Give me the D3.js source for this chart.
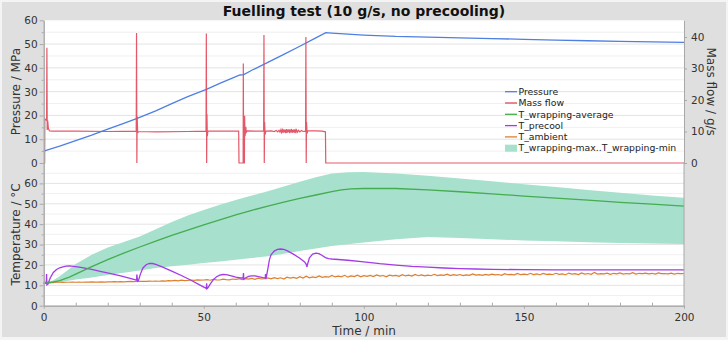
<!DOCTYPE html>
<html>
<head>
<meta charset="utf-8">
<script src="https://cdn.jsdelivr.net/npm/d3@7"></script>
<style>
  body { margin: 0; background: #f4f4f4; }
  svg { display: block; font-family: "DejaVu Sans", Verdana, sans-serif; }
</style>
</head>
<body>
<svg width="728" height="340"></svg>
<script>
// ---- data (time in min) ----
var pressure = [[0,5.0],[5,7.1],[10,9.4],[15,11.7],[20,14.2],[25,16.7],[29.2,18.8],[35,21.9],[40,25.0],[45,27.9],
  [51,31.1],[55,33.5],[61.3,37.0],[62.5,37.2],[65,39.0],[70,42.3],[75,45.7],[80,49.1],[85,52.6],[88.1,54.8],
  [90,54.6],[100,53.8],[110,53.2],[120,52.9],[130,52.6],[140,52.3],[150,52.0],[160,51.7],[170,51.4],[180,51.1],
  [190,50.9],[200,50.7]];

var massFlow = [[0,0],[0.3,0],[0.35,14],[0.9,13.5],[1.0,36.6],[1.1,10.5],[1.25,13.5],[1.45,11],[1.8,10.2],[3,10.1],
  [10,10.1],[20,10.0],[28.9,10.1],[29.0,41.3],[29.1,0],[29.2,14.8],[29.35,9.5],[29.6,10.0],[35,9.9],[45,10.0],
  [50.7,10.1],[50.8,41.1],[50.9,0],[51.0,15.5],[51.1,8.5],[51.3,10.2],[55,10.1],[60.9,10.1],[61.0,0],[62.3,0],
  [62.35,31.6],[62.45,0],[62.7,0],[62.75,15],[62.9,8.5],[63.1,11.5],[63.3,9.8],[63.6,10.2],[66,10.1],[68.7,10.1],
  [68.8,40.6],[68.9,0],[69.0,13],[69.15,9],[69.4,10.1],[71,10.2],[72,10.0],[72.6,10.3],[73.1,9.9],[73.5,10.4],
  [73.8,9.8],[74.1,10.6],[74.3,9.7],[74.6,10.5],[74.8,9.6],[75.0,10.7],[75.2,9.7],[75.4,10.5],[75.6,9.5],
  [75.8,10.8],[76.0,9.6],[76.2,10.6],[76.4,9.8],[76.6,10.7],[76.8,9.5],[77.0,10.6],[77.2,9.7],[77.4,10.8],
  [77.6,9.6],[77.8,10.5],[78.0,9.7],[78.2,10.7],[78.4,9.6],[78.6,10.4],[78.8,9.8],[79.0,10.5],[79.3,9.8],
  [79.6,10.4],[80,9.9],[80.5,10.3],[81,10.0],[81.8,10.1],[81.9,40.0],[82.0,0],[82.1,13],[82.25,9.3],[82.5,10.2],
  [85,10.2],[87,10.1],[88.0,9.9],[88.1,0],[200,0]];

var wrapAvg = [[0,11],[2,11.3],[5,12.3],[8,14],[10,15.5],[15,19.2],[20,22.6],[25,25.8],[30,28.8],[35,31.7],
  [40,34.5],[45,37.1],[50,39.6],[55,42.1],[60,44.5],[65,46.8],[70,48.9],[75,50.8],[80,52.6],[85,54.3],[90,56],
  [93,56.8],[96,57.3],[100,57.5],[105,57.6],[110,57.5],[120,56.8],[130,55.9],[140,54.9],[150,53.8],[160,52.8],
  [170,51.8],[180,50.7],[190,49.8],[200,48.8]];

var wrapMax = [[0,11],[3,12.5],[5,14.5],[10,20.5],[15,25],[20,28.5],[25,31.2],[30,34],[35,37.5],[40,41],[45,44.2],
  [50,47],[55,49.5],[60,51.8],[65,54],[70,56.2],[75,58.5],[80,60.8],[85,63],[90,64.8],[95,65.5],[100,65.6],
  [110,64.8],[120,63.8],[130,62.4],[140,61],[150,59.6],[160,58.2],[170,56.8],[180,55.4],[190,54.1],[200,53]];

var wrapMin = [[0,10.5],[3,10.9],[5,11.5],[10,12.8],[15,13.8],[20,15],[28,16.8],[35,18.5],[40,19.3],[50,20.9],
  [60,22.5],[70,24.2],[80,26.8],[90,29.3],[100,31],[110,32.6],[120,33.7],[130,33.2],[140,32.6],[150,32],
  [160,31.6],[170,31.1],[180,30.8],[190,30.5],[200,30.3]];

var precool = [[0,11],[0.8,11.2],[0.9,15.5],[1.0,10.2],[1.3,10.5],[2,13.5],[3,16.3],[4,17.8],[5,18.6],[6,19.1],
  [7,19.4],[8,19.5],[10,19.2],[12,18.7],[15,17.8],[18,16.7],[21,15.7],[24,14.6],[27,13.4],[29,12.5],[29.1,15.3],
  [29.3,12],[29.6,12.4],[30.2,15.5],[31,18.5],[32,20.1],[33,20.7],[34,20.7],[35,20.3],[37,19],[40,17],[43,14.8],
  [46,12.5],[49,10],[50.8,8.5],[50.9,11],[51.0,8.3],[51.3,8.8],[52,10.6],[53,12.8],[54,14.2],[55,15],[56,15.3],
  [57,15.2],[58,14.9],[60,14],[61.5,13.6],[62.3,13.6],[62.4,16],[62.5,13],[63,13.6],[64,14.4],[65,14.6],[66,14.6],
  [67,14.3],[68.5,13.8],[69.2,13.6],[69.3,15.5],[69.4,13],[70,18],[70.5,22.5],[71,25],[72,26.8],[73,27.6],
  [74,27.8],[75,27.6],[76,27],[78,25.3],[80,23.3],[81.5,21.5],[82,20.3],[82.2,19],[82.5,20.8],[83,23.5],[84,25.3],
  [85,25.8],[86,25.5],[87,24.6],[88,23.6],[89,23.1],[90,22.9],[95,22.3],[100,21.5],[105,20.6],[110,19.9],
  [115,19.3],[120,18.9],[125,18.5],[130,18.2],[135,18],[140,17.8],[150,17.7],[160,17.6],[180,17.6],[200,17.6]];

// T_ambient, one reading per minute from 0 to 200
var ambient = [11.4,11.4,11.5,11.4,11.5,11.5,11.4,11.5,11.5,11.6,
  11.5,11.6,11.5,11.6,11.6,11.7,11.6,11.6,11.7,11.6,
  11.7,11.7,11.8,11.7,11.8,11.7,11.8,11.9,11.8,11.9,
  11.9,12.0,11.9,12.1,12.0,12.1,12.0,12.2,12.1,12.3,
  12.2,12.4,12.2,12.5,12.3,12.4,12.6,12.4,12.7,12.5,
  12.6,12.8,12.5,12.9,12.7,12.6,13.0,12.8,12.7,13.1,
  12.9,13.2,12.8,13.3,13.0,13.4,12.9,13.5,13.1,13.3,
  13.6,13.2,13.8,13.3,13.7,13.1,14.0,13.5,13.9,13.4,
  14.2,13.6,14.5,13.7,14.1,13.8,14.6,13.9,14.3,14.0,
  14.8,14.1,14.5,14.2,14.9,14.0,14.6,14.3,15.0,14.2,
  14.7,14.4,14.9,14.3,15.1,14.5,14.8,14.2,15.0,14.6,
  14.9,14.4,15.2,14.6,15.0,14.5,15.3,14.7,15.1,14.6,
  15.0,14.7,15.4,14.8,15.1,14.9,15.5,14.8,15.2,14.9,
  15.3,14.8,15.1,14.9,15.6,15.0,15.2,14.9,15.4,15.0,
  15.5,15.1,15.3,14.9,15.7,15.2,15.4,15.1,15.8,15.2,
  15.5,15.2,15.9,15.3,15.6,15.2,15.8,15.4,15.5,15.3,
  15.9,15.4,15.6,15.2,16.0,15.5,15.7,15.3,16.1,15.5,
  15.8,15.4,16.3,15.5,15.7,15.6,16.0,15.4,15.9,15.6,
  16.1,15.5,15.8,15.6,16.2,15.5,15.9,15.7,16.0,15.6,
  15.9,15.5,16.1,15.7,15.8,15.6,16.0,15.5,15.9,15.7,
  15.8];

var xTicks = [0, 50, 100, 150, 200];
var pressureTicks = [0, 10, 20, 30, 40, 50, 60];
var massTicks = [0, 10, 20, 30, 40];
var tempTicks = [0, 10, 20, 30, 40, 50, 60];

var legendItems = [
  {name: 'Pressure', color: '#4f7fe3', type: 'line'},
  {name: 'Mass flow', color: '#e0475a', type: 'line'},
  {name: 'T_wrapping-average', color: '#45ac4f', type: 'line'},
  {name: 'T_precool', color: '#a43be6', type: 'line'},
  {name: 'T_ambient', color: '#dc8030', type: 'line'},
  {name: 'T_wrapping-max..T_wrapping-min', color: '#a7e0cd', type: 'rect'}
];

var svg = d3.select('svg');

// outer gray frame
svg.append('rect').attr('x', 2).attr('y', 2).attr('width', 724).attr('height', 335).attr('fill', '#dfdfdf');

// layout
var plot = {l: 43.7, r: 684, t: 20.3, mid: 163, b: 305.7};

var x = d3.scaleLinear().domain([0, 200]).range([plot.l, plot.r]);
var yP = d3.scaleLinear().domain([0, 60]).range([plot.mid, plot.t]);
var yM = d3.scaleLinear().domain([0, 45.3]).range([plot.mid, plot.t]);
var yT = d3.scaleLinear().domain([0, 70]).range([plot.b, plot.mid]);

svg.append('rect').attr('x', plot.l).attr('y', plot.t)
  .attr('width', plot.r - plot.l).attr('height', plot.b - plot.t).attr('fill', '#fff');

// gridlines, every 5 units
var gridG = svg.append('g');
gridG.selectAll('.gp').data(d3.range(5, 60, 5)).enter().append('line')
  .attr('x1', plot.l).attr('x2', plot.r)
  .attr('y1', function(d) { return yP(d); }).attr('y2', function(d) { return yP(d); })
  .attr('stroke', function(d) { return d % 10 ? '#f0f0f0' : '#e3e3e3'; });
gridG.selectAll('.gt').data(d3.range(5, 70, 5)).enter().append('line')
  .attr('x1', plot.l).attr('x2', plot.r)
  .attr('y1', function(d) { return yT(d); }).attr('y2', function(d) { return yT(d); })
  .attr('stroke', function(d) { return d % 10 ? '#f0f0f0' : '#e3e3e3'; });

// temperature panel
var band = d3.area()
  .x(function(d) { return x(d[0]); })
  .y0(function(d) { return yT(d[1]); })
  .y1(function(d) { return yT(d[2]); });
var bandData = wrapMax.map(function(d) {
  // pair each max point with the min value at the same time
  var lo = wrapMin.find(function(m) { return m[0] >= d[0]; });
  var prev = wrapMin.filter(function(m) { return m[0] <= d[0]; }).pop();
  var v = lo[0] === prev[0] ? lo[1] : prev[1] + (lo[1] - prev[1]) * (d[0] - prev[0]) / (lo[0] - prev[0]);
  return [d[0], v, d[1]];
});
svg.append('path').datum(bandData).attr('d', band).attr('fill', '#a7e0cd');

var lineT = d3.line().x(function(d) { return x(d[0]); }).y(function(d) { return yT(d[1]); });
svg.append('path').datum(ambient.map(function(v, i) { return [i, v]; }))
  .attr('d', lineT).attr('fill', 'none').attr('stroke', '#dc8030').attr('stroke-width', 1.2);
svg.append('path').datum(precool)
  .attr('d', lineT).attr('fill', 'none').attr('stroke', '#a43be6').attr('stroke-width', 1.3);
svg.append('path').datum(wrapAvg)
  .attr('d', lineT).attr('fill', 'none').attr('stroke', '#45ac4f').attr('stroke-width', 1.3);

// top panel
var lineP = d3.line().x(function(d) { return x(d[0]); }).y(function(d) { return yP(d[1]); });
var lineM = d3.line().x(function(d) { return x(d[0]); }).y(function(d) { return yM(d[1]); });
svg.append('path').datum(pressure)
  .attr('d', lineP).attr('fill', 'none').attr('stroke', '#4f7fe3').attr('stroke-width', 1.3);
svg.append('path').datum(massFlow)
  .attr('d', lineM).attr('fill', 'none').attr('stroke', '#e0475a').attr('stroke-width', 1.2)
  .attr('stroke-opacity', 0.9);

// axes
function styleAxis(g) {
  g.selectAll('path.domain').attr('stroke', '#a8a8a8');
  g.selectAll('line').attr('stroke', '#a8a8a8');
  g.selectAll('text').attr('fill', '#333').attr('font-size', '10.5px')
    .attr('font-family', '"DejaVu Sans", Verdana, sans-serif');
}

svg.append('g').attr('transform', 'translate(' + plot.l + ',0)')
  .call(d3.axisLeft(yP).tickValues(d3.range(5, 60, 10)).tickSize(2).tickSizeOuter(0).tickFormat(''))
  .call(styleAxis);
svg.append('g').attr('transform', 'translate(' + plot.l + ',0)')
  .call(d3.axisLeft(yP).tickValues(pressureTicks).tickSize(4).tickPadding(2).tickSizeOuter(0))
  .call(styleAxis);

svg.append('g').attr('transform', 'translate(' + plot.l + ',0)')
  .call(d3.axisLeft(yT).tickValues(d3.range(5, 70, 10)).tickSize(2).tickSizeOuter(0).tickFormat(''))
  .call(styleAxis);
svg.append('g').attr('transform', 'translate(' + plot.l + ',0)')
  .call(d3.axisLeft(yT).tickValues(tempTicks).tickSize(4).tickPadding(2).tickSizeOuter(0))
  .call(styleAxis);

svg.append('g').attr('transform', 'translate(' + plot.r + ',0)')
  .call(d3.axisRight(yM).tickValues(massTicks).tickSize(3).tickPadding(4).tickSizeOuter(0))
  .call(styleAxis);
svg.append('line').attr('x1', plot.r).attr('x2', plot.r).attr('y1', plot.mid).attr('y2', plot.b)
  .attr('stroke', '#a8a8a8');

svg.append('g').attr('transform', 'translate(0,' + plot.b + ')')
  .call(d3.axisBottom(x).tickValues(d3.range(10, 200, 10).filter(function(d) { return d % 50; }))
    .tickSize(-3).tickSizeOuter(0).tickFormat(''))
  .call(styleAxis);
svg.append('g').attr('transform', 'translate(0,' + plot.b + ')')
  .call(d3.axisBottom(x).tickValues(xTicks).tickSize(3).tickPadding(5).tickSizeOuter(0))
  .call(styleAxis);

// titles
svg.append('text').attr('x', 364).attr('y', 15.5).attr('text-anchor', 'middle')
  .attr('font-size', '14px').attr('font-weight', 'bold').attr('fill', '#111')
  .text('Fuelling test (10 g/s, no precooling)');

svg.append('text').attr('transform', 'translate(20,' + (plot.t + plot.mid) / 2 + ') rotate(-90)')
  .attr('text-anchor', 'middle').attr('font-size', '12px').attr('fill', '#333')
  .text('Pressure / MPa');
svg.append('text').attr('transform', 'translate(20,' + (plot.mid + plot.b) / 2 + ') rotate(-90)')
  .attr('text-anchor', 'middle').attr('font-size', '12px').attr('fill', '#333')
  .text('Temperature / °C');
svg.append('text').attr('transform', 'translate(707,' + (plot.t + plot.mid) / 2 + ') rotate(90)')
  .attr('text-anchor', 'middle').attr('font-size', '12px').attr('fill', '#333')
  .text('Mass flow / g/s');
svg.append('text').attr('x', 364).attr('y', 334.5).attr('text-anchor', 'middle')
  .attr('font-size', '12px').attr('fill', '#333')
  .text('Time / min');

// legend
var legend = svg.append('g').attr('transform', 'translate(505,91.7)');
var rows = legend.selectAll('g').data(legendItems).enter().append('g')
  .attr('transform', function(d, i) { return 'translate(0,' + i * 11.3 + ')'; });
rows.filter(function(d) { return d.type === 'line'; }).append('line')
  .attr('x1', 0).attr('x2', 12).attr('stroke', function(d) { return d.color; }).attr('stroke-width', 1.3);
rows.filter(function(d) { return d.type === 'rect'; }).append('rect')
  .attr('x', 0).attr('y', -3.5).attr('width', 12).attr('height', 7).attr('fill', function(d) { return d.color; });
rows.append('text').attr('x', 13.5).attr('dy', '0.35em').attr('font-size', '9.3px').attr('fill', '#222')
  .text(function(d) { return d.name; });
</script>
</body>
</html>
